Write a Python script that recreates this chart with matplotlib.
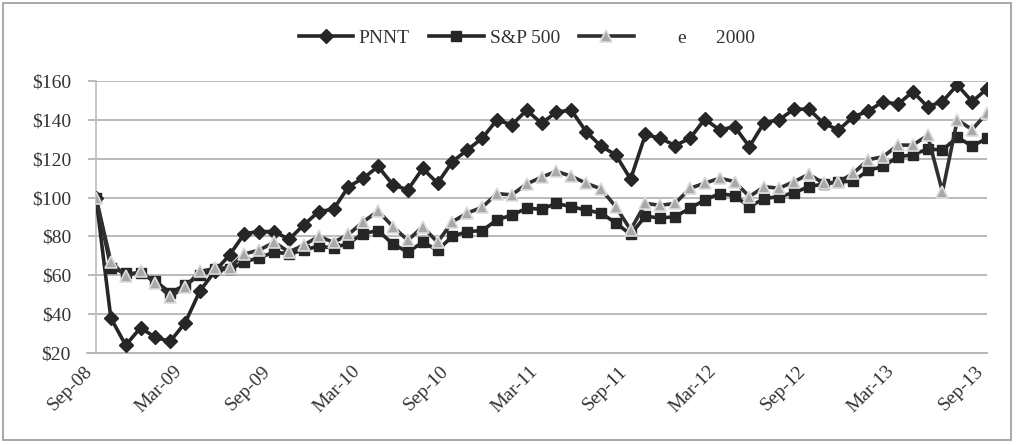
import numpy as np
import matplotlib
matplotlib.use("Agg")
import matplotlib.pyplot as plt
import matplotlib.transforms as mtransforms
from matplotlib.patches import Rectangle

plt.rcParams['font.family'] = ['Liberation Serif', 'DejaVu Serif']

# monthly values, Sep-08 .. Sep-13 (61 points)
pnnt = [100, 38, 24, 33, 28, 26, 35.5, 52, 62, 70.5,
        81.5, 82.5, 82.5, 78.5, 86, 92.8, 94, 105.6, 110, 116,
        106.5, 104, 115, 107.4, 118.5, 124.5, 130.5, 140, 137.4, 145,
        138.2, 144, 145, 134, 126.5, 122, 109.5, 132.5, 130.5, 126.8,
        130.5, 140.4, 134.8, 136.5, 126.2, 138.6, 140, 145.5, 145.5, 138.2,
        134.8, 141.6, 144.5, 149.4, 148, 154.5, 146.8, 149.4, 158, 149.4,
        156]
sp500 = [100, 64, 61, 61, 57, 51, 55, 60, 63, 63,
         67, 69, 72, 71, 73, 75, 74, 76.5, 81.5, 83,
         76, 72, 77, 73, 80, 82.5, 83, 88.5, 91, 94.5,
         94, 97, 95.3, 93.6, 92, 87, 81, 90.5, 89.4, 90.2,
         94.5, 98.8, 102, 101, 95.3, 99.5, 100.5, 102.5, 105.6, 107,
         108, 108.5, 114, 116, 121, 122, 125, 124.5, 131, 126.5,
         130.5]
russell = [100, 67, 59.5, 62, 56, 49, 54, 62, 63.5, 64,
           71, 73, 77, 72, 75.6, 80, 77, 81, 87.6, 93,
           85, 78, 85, 77, 87.6, 92, 95, 102, 101.4, 107,
           110.5, 113.5, 111, 107.4, 104.5, 95.3, 83.4, 97, 96, 97,
           104.8, 107.4, 110, 108.2, 100.5, 105.6, 104.8, 108.2, 112, 107.4,
           108, 112.5, 119.5, 121, 127, 127, 132, 103, 140, 135,
           143.5]
tick_labels = ['Sep-08', 'Mar-09', 'Sep-09', 'Mar-10', 'Sep-10', 'Mar-11',
               'Sep-11', 'Mar-12', 'Sep-12', 'Mar-13', 'Sep-13']
y_ticks = [20, 40, 60, 80, 100, 120, 140, 160]

x = np.arange(len(pnnt))

fig = plt.figure(figsize=(10.18, 4.45), dpi=100)
ax = fig.add_axes([96 / 1018, 92 / 445, 891 / 1018, 272 / 445])

ax.plot(x, pnnt, color='#262626', lw=2.6, marker='D', ms=7.5,
        mfc='#262626', mec='#262626', label='PNNT', zorder=3)
ax.plot(x, sp500, color='#262626', lw=2.6, marker='s', ms=7,
        mfc='#262626', mec='#262626', label='S&P 500', zorder=3)
ax.plot(x, russell, color='#303030', lw=2.6, marker='^', ms=8,
        mfc='#a8a8a8', mec='#dcdcdc', mew=1.2, label='        e      2000', zorder=4)

ax.set_xlim(0, 60)
ax.set_ylim(20, 160)
ax.set_yticks(y_ticks)
ax.set_yticklabels(['$%d' % v for v in y_ticks])
ax.set_xticks(range(0, 61, 6))
ax.set_xticklabels(tick_labels, rotation=45, ha='right')
offset = mtransforms.ScaledTranslation(10 / 100, 0, fig.dpi_scale_trans)
for lab in ax.get_xticklabels():
    lab.set_transform(lab.get_transform() + offset)

ax.grid(axis='y', color='#b4b4b4', lw=1.3)
ax.set_axisbelow(True)
for side in ['top', 'right', 'bottom']:
    ax.spines[side].set_visible(False)
ax.spines['left'].set_color('#c0c0c0')
ax.spines['left'].set_linewidth(1.3)
ax.tick_params(axis='y', length=6, color='#b4b4b4', width=1.3, pad=12,
               labelsize=14, labelcolor='#333333')
ax.tick_params(axis='x', length=0, pad=7, labelsize=14, labelcolor='#333333')
ax.axhline(20, color='#b4b4b4', lw=1.3, xmin=-0.01, clip_on=False)

fig.legend(loc='center', bbox_to_anchor=(527 / 1018, 1 - 38 / 445), ncol=3,
           frameon=False, fontsize=14, handlelength=2.8, columnspacing=1.0,
           handletextpad=0.3, labelcolor='#333333')

fig.patches.append(Rectangle((3 / 1018, 5 / 445), 1008 / 1018, 437 / 445,
                             transform=fig.transFigure, fill=False,
                             edgecolor='#9a9a9a', lw=1.2))

fig.savefig('out.png', dpi=100)
